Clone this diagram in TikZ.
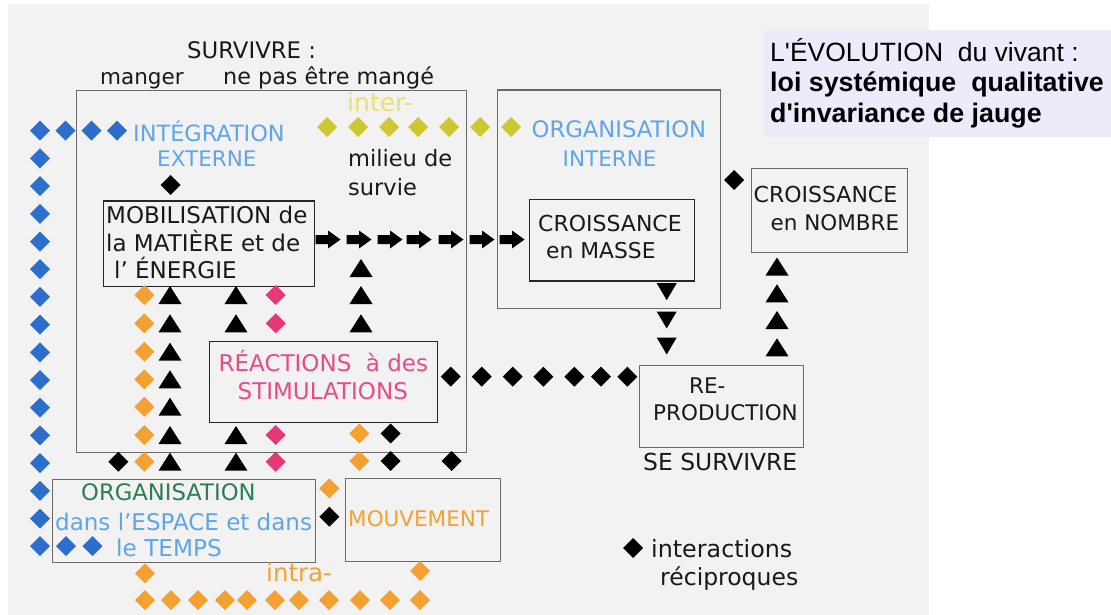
\documentclass[tikz,border=0pt]{standalone}
\usepackage{fontspec}
\setmainfont{DejaVu Sans}
\newfontfamily\titlefont{Liberation Sans}
\definecolor{bgc}{RGB}{242,242,242}
\definecolor{titlebg}{RGB}{235,235,250}
\definecolor{dblue}{RGB}{45,110,205}
\definecolor{lblue}{RGB}{95,165,235}
\definecolor{dgreen}{RGB}{45,125,85}
\definecolor{ygreen}{RGB}{205,200,50}
\definecolor{ytext}{RGB}{230,225,110}
\definecolor{orng}{RGB}{245,160,50}
\definecolor{pnk}{RGB}{230,55,120}
\definecolor{pnktext}{RGB}{232,75,135}
\definecolor{gline}{RGB}{105,105,105}
\definecolor{txt}{RGB}{25,25,25}
\begin{document}
\begin{tikzpicture}[x=1pt,y=-1pt,
  dmd/.pic={\fill[#1] (-10,0)--(0,-10)--(10,0)--(0,10)--cycle;},
  dmd/.default=black,
  tri/.pic={\fill[black] (-11.5,9)--(11.5,9)--(0,-9)--cycle;},
  dtri/.pic={\fill[black] (-10,-8.5)--(10,-8.5)--(0,8.5)--cycle;},
  rarr/.pic={\fill[black] (-12.5,-4.5)--(0,-4.5)--(0,-9)--(12.5,0)--(0,9)--(0,4.5)--(-12.5,4.5)--cycle;},
  gbox/.style={draw=gline, line width=1.4pt, inner sep=0, anchor=north west},
  kbox/.style={draw=black!85, line width=1.7pt, inner sep=0, anchor=north west},
  lbl/.style={inner sep=0, anchor=base west, text=txt, font=\fontsize{21.5}{27}\selectfont},
  fs/.style={font=\fontsize{#1}{27}\selectfont},
  ttl/.style={inner sep=0, anchor=base west, text=black, font=\titlefont\fontsize{26.5}{32}\selectfont}]
\useasboundingbox (0,0) rectangle (1111,615);
\fill[white] (0,0) rectangle (1111,615);
\fill[bgc] (8,4) rectangle (929,615);
% title
\fill[titlebg] (764,30) rectangle (1111,137);
\node[ttl] (t1) at (770,61.5) {L'ÉVOLUTION\ \ du vivant :};
\node[ttl, font=\titlefont\bfseries\fontsize{26.8}{32}\selectfont] (t2) at (770,92) {loi systémique\ \ qualitative};
\node[ttl, font=\titlefont\bfseries\fontsize{26.8}{32}\selectfont] (t3) at (770,123) {d'invariance de jauge};
% boxes
\node[gbox, minimum width=390, minimum height=362] (integ) at (76,90) {};
\node[gbox, minimum width=223.5, minimum height=218.5] (orgint) at (496.5,89.5) {};
\node[kbox, minimum width=165, minimum height=81.5] (masse) at (528.5,198.5) {};
\node[gbox, minimum width=156.5, minimum height=84.5] (nombre) at (750.5,167.5) {};
\node[kbox, minimum width=211, minimum height=85.5] (mobil) at (102.5,200) {};
\node[kbox, minimum width=228, minimum height=81] (react) at (208.5,340.5) {};
\node[gbox, minimum width=164, minimum height=82] (repro) at (638.5,365) {};
\node[gbox, minimum width=263, minimum height=83] (espace) at (51.5,479) {};
\node[gbox, minimum width=155, minimum height=83] (mouv) at (344.5,478) {};
% texts
\node[lbl, fs=22.8] (surv) at (187,58.3) {SURVIVRE :};
\node[lbl] (mang) at (100,84.5) {manger};
\node[lbl, fs=22.3] (nepas) at (223,84.5) {ne pas être mangé};
\node[lbl, text=lblue, fs=22.4] (integt) at (133,141.7) {INTÉGRATION};
\node[lbl, text=lblue] (ext) at (157,166.7) {EXTERNE};
\node[lbl, text=ytext, fs=25] (inter) at (347,111.5) {inter-};
\node[lbl, fs=22.5] (mil1) at (348,166.7) {milieu de};
\node[lbl, fs=22.5] (mil2) at (348,195) {survie};
\node[lbl, fs=23] (mob1) at (106,223) {MOBILISATION de};
\node[lbl, fs=23] (mob2) at (106,251) {la MATIÈRE et de};
\node[lbl, fs=23] (mob3) at (114,278) {l' ÉNERGIE};
\node[lbl, text=lblue, fs=22.7] (oi1) at (531.5,137.3) {ORGANISATION};
\node[lbl, text=lblue] (oi2) at (562.5,166.7) {INTERNE};
\node[lbl, fs=22] (cm1) at (538,231.7) {CROISSANCE};
\node[lbl, fs=21.8] (cm2) at (546,258) {en MASSE};
\node[lbl, fs=22] (cn1) at (753.5,202.3) {CROISSANCE};
\node[lbl] (cn2) at (770.5,230) {en NOMBRE};
\node[lbl, text=pnktext, fs=23] (re1) at (218.5,371.7) {RÉACTIONS\ \ à des};
\node[lbl, text=pnktext, fs=23] (re2) at (237.5,399) {STIMULATIONS};
\node[lbl] (rp1) at (689,393.3) {RE-};
\node[lbl] (rp2) at (653,420.7) {PRODUCTION};
\node[lbl, fs=23.4] (sesurv) at (643,470) {SE SURVIVRE};
\node[lbl, text=dgreen, fs=22.7] (es1) at (81,500) {ORGANISATION};
\node[lbl, text=lblue, fs=23] (es2) at (55,530) {dans l'ESPACE et dans};
\node[lbl, text=lblue, fs=23.2] (es3) at (116,556.7) {le TEMPS};
\node[lbl, text=orng] (mvt) at (348,526.7) {MOUVEMENT};
\node[lbl, text=orng, fs=24.5] (intra) at (266,581.7) {intra-};
\node[lbl, fs=23.8] (leg1) at (651,557) {interactions};
\node[lbl, fs=23.5] (leg2) at (660,585) {réciproques};
% blue diamonds
\foreach \k in {0,...,15} \pic at (40,130.7+27.7*\k) {dmd=dblue};
\foreach \x in {65.5,91.5,117} \pic at (\x,130.7) {dmd=dblue};
\foreach \x in {66,92.5} \pic at (\x,546) {dmd=dblue};
% yellow-green diamonds
\foreach \x in {327,358,389,418,449,480,511} \pic at (\x,127) {dmd=ygreen};
% block arrows
\foreach \x in {328,359,390,419,451,482,512} \pic at (\x,239.5) {rarr};
% black diamonds
\pic at (170.7,185) {dmd};
\pic at (118.3,461.7) {dmd};
\foreach \y in {433.5,461} \pic at (390.5,\y) {dmd};
\pic at (451.7,461) {dmd};
\pic at (329.3,516.7) {dmd};
\pic at (734,180) {dmd};
\pic at (633,548) {dmd};
\foreach \x in {450.7,481.7,512.7,543.3,574.3,601,627.3} \pic at (\x,376.7) {dmd};
% orange diamonds
\foreach \y in {295,323.3,351.7,379.3,406.7,435,461.7} \pic at (144.3,\y) {dmd=orng};
\foreach \y in {433.5,461} \pic at (359.3,\y) {dmd=orng};
\pic at (329.3,488.3) {dmd=orng};
\pic at (145,573.3) {dmd=orng};
\pic at (420,571) {dmd=orng};
\foreach \x in {145,171,198,225,247,275,299,329,360,390,420} \pic at (\x,600) {dmd=orng};
% pink diamonds
\foreach \y in {295,323.3,435,461.7} \pic at (275.7,\y) {dmd=pnk};
% triangles
\foreach \y in {295,323.3,351.7,379.3,406.7,435,461.7} \pic at (170,\y) {tri};
\foreach \y in {295,323.3,435,461.7} \pic at (236,\y) {tri};
\foreach \y in {268,295,323.3} \pic at (361,\y) {tri};
\foreach \y in {266.5,293.3,320,347.3} \pic at (777,\y) {tri};
\foreach \y in {291.7,320,346} \pic at (666.7,\y) {dtri};
\end{tikzpicture}
\end{document}
